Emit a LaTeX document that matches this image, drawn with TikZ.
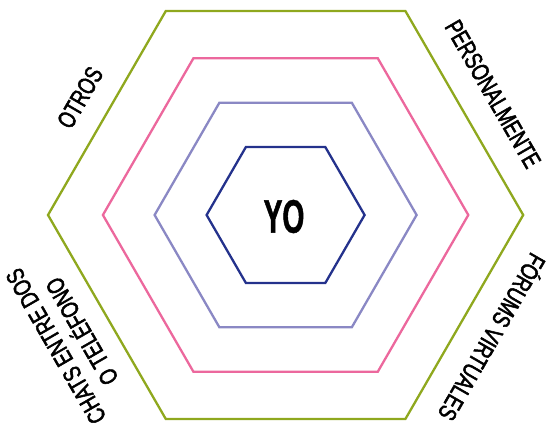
\documentclass[tikz,border=0pt]{standalone}
\usepackage{fontspec}
\setmainfont{Liberation Sans}
\newfontfamily\labfont[FakeStretch=0.74,FakeBold=2]{Liberation Sans}
\newfontfamily\yofont[FakeStretch=0.6,FakeBold=1]{Liberation Sans Bold}
\definecolor{hexgreen}{RGB}{143,168,30}
\definecolor{hexpink}{RGB}{236,104,157}
\definecolor{hexpurple}{RGB}{138,136,196}
\definecolor{hexnavy}{RGB}{36,50,140}
\tikzset{
  hexline/.style={line width=2.3pt, line join=miter},
  lab/.style={inner sep=0pt, font=\labfont\fontsize{25}{30}\selectfont, text=black, align=center},
}
\begin{document}
\begin{tikzpicture}[x=1pt,y=-1pt]
\useasboundingbox (0,0) rectangle (552,432);
% outer hexagon
\draw[hexline, hexgreen] (48,215) -- (165.8,11) -- (405.4,11) -- (523.2,215) -- (405.4,419) -- (165.8,419) -- cycle;
% pink hexagon
\draw[hexline, hexpink] (102.9,215) -- (193.4,58.3) -- (377.8,58.3) -- (468.3,215) -- (377.8,371.7) -- (193.4,371.7) -- cycle;
% purple hexagon
\draw[hexline, hexpurple] (154.6,215) -- (219.4,102.7) -- (351.8,102.7) -- (416.6,215) -- (351.8,327.3) -- (219.4,327.3) -- cycle;
% navy hexagon
\draw[hexline, hexnavy] (206.6,215) -- (245.9,147) -- (325.3,147) -- (364.6,215) -- (325.3,283) -- (245.9,283) -- cycle;
% labels
\node[inner sep=0pt, font=\yofont\fontsize{47}{47}\selectfont] (yo) at (284,216.5) {YO};
\node[lab, rotate=60] (otros) at (80,97.5) {OTROS};
\node[lab, rotate=-60] (pers) at (493,94) {PERSONALMENTE};
\node[lab, rotate=-120] (foros) at (493.5,338) {FÓRUMS VIRTUALES};
\node[lab, rotate=120] (chats) at (69,338.7) {CHATS ENTRE DOS\\O TELÉFONO};
\end{tikzpicture}
\end{document}
